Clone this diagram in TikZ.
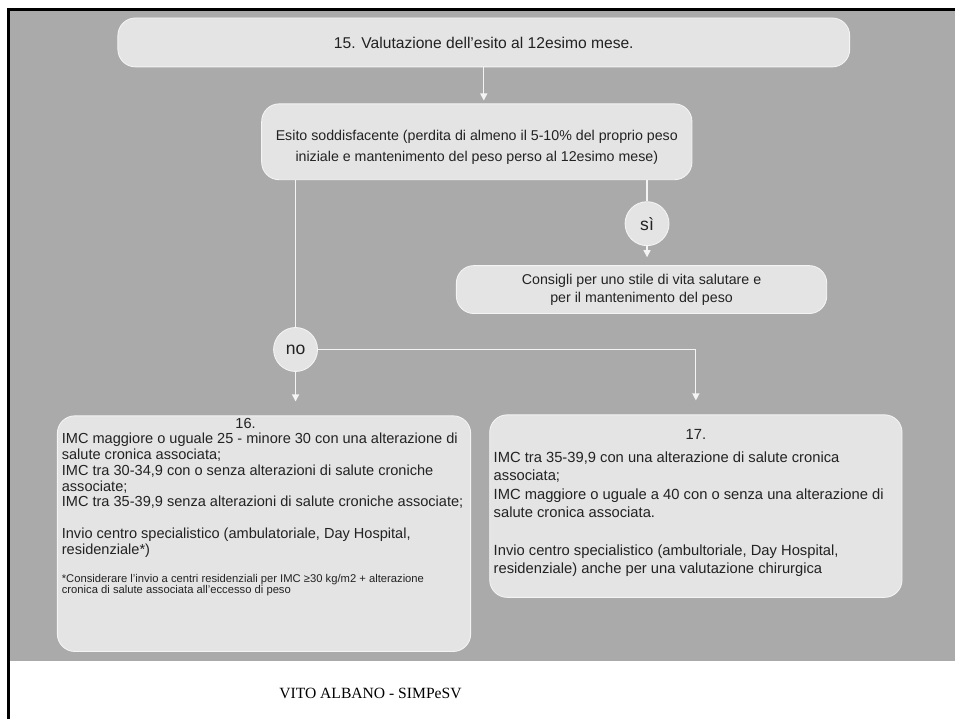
\documentclass[tikz,border=0pt]{standalone}
\usepackage{fontspec}
\setmainfont{Liberation Serif}
\setsansfont{Liberation Sans}
\usetikzlibrary{arrows.meta,positioning,calc}
\definecolor{slideGray}{HTML}{AAAAAA}
\definecolor{boxGray}{HTML}{E4E4E4}
\definecolor{wireWhite}{HTML}{F4F4F4}
\definecolor{inkGray}{HTML}{222222}

\tikzset{
  flowbox/.style={draw=wireWhite,line width=0.5pt,fill=boxGray,rounded corners=10pt,
                  text=inkGray,inner sep=0pt,align=center},
  answer/.style={circle,draw=wireWhite,line width=0.5pt,fill=boxGray,text=inkGray,
                 minimum size=0.88cm,inner sep=0pt,font=\sffamily\fontsize{10}{12}\selectfont},
  wire/.style={draw=wireWhite,line width=0.7pt},
  arrowwire/.style={wire,-{Triangle[length=4pt,width=4pt]}},
}
\newcommand{\plainspaces}{\spaceskip=0pt\xspaceskip=0pt\hyphenpenalty=10000\relax}

\begin{document}
\begin{tikzpicture}[x=0.02cm,y=-0.02cm]
  % slide background and frame
  \fill[white] (0,0) rectangle (956,720);
  \fill[slideGray] (10,11) rectangle (956,662);
  \draw[black,line width=1.6pt] (8.5,720) -- (8.5,9.5) -- (956,9.5);

  % boxes
  \node[flowbox,minimum width=14.66cm,minimum height=0.98cm,
        font=\sffamily\fontsize{8.9}{10.5}\selectfont] (valut) at (484.5,42.5)
    {15. Valutazione dell’esito al 12esimo mese.};
  \node[flowbox,minimum width=8.62cm,minimum height=1.52cm,
        font=\sffamily\fontsize{8.1}{11.9}\selectfont] (esito) at (477.5,142)
    {\rule{0pt}{12.5pt}Esito soddisfacente (perdita di almeno il 5-10\% del proprio peso\\
     iniziale e mantenimento del peso perso al 12esimo mese)};
  \node[answer] (si) at (648,224) {sì};
  \node[flowbox,minimum width=7.42cm,minimum height=0.96cm,
        font=\sffamily\fontsize{8.1}{10.2}\selectfont] (consigli) at (642.5,290)
    {Consigli per uno stile di vita salutare e\\per il mantenimento del peso};
  \node[answer] (no) at (296,350) {no};
  \node[flowbox,anchor=north west,text width=8.1cm,inner xsep=0.09cm,inner ysep=0.04cm,
        align=left,font=\sffamily\fontsize{8.3}{9}\selectfont] (imc16) at (57,416)
    {\plainspaces\makebox[\hsize]{16.\hspace{21pt}}\\
     IMC maggiore o uguale 25 - minore 30 con una alterazione di\\
     salute cronica associata;\\
     IMC tra 30-34,9 con o senza alterazioni di salute croniche\\
     associate;\\
     IMC tra 35-39,9 senza alterazioni di salute croniche associate;\\[9pt]
     Invio centro specialistico (ambulatoriale, Day Hospital,\\
     residenziale*)\\[8.5pt]
     {\fontsize{6.4}{6.3}\selectfont *Considerare l’invio a centri residenziali per IMC ≥30 kg/m2 + alterazione\\[-2.6pt]
     cronica di salute associata all’eccesso di peso\rule[-32pt]{0pt}{32pt}}};
  \node[flowbox,anchor=north west,text width=8.1cm,inner xsep=0.08cm,inner ysep=0.3cm,
        align=left,font=\sffamily\fontsize{8.4}{10.6}\selectfont] (imc17) at (490,415)
    {\plainspaces\makebox[\hsize]{17.}\\[2pt]
     IMC tra 35-39,9 con una alterazione di salute cronica\\
     associata;\\
     IMC maggiore o uguale a 40 con o senza una alterazione di\\
     salute cronica associata.\\[10.6pt]
     Invio centro specialistico (ambultoriale, Day Hospital,\\
     residenziale) anche per una valutazione chirurgica\rule[-5pt]{0pt}{5pt}};

  % footer
  \node[font=\rmfamily\fontsize{8.9}{10}\selectfont] (autore) at (371,694) {VITO ALBANO - SIMPeSV};

  % connectors
  \draw[arrowwire,shorten >=0.06cm] (valut.south) -- (valut.south |- esito.north);
  \draw[wire] (si.north |- esito.south) -- (si.north);
  \draw[arrowwire,shorten >=0.16cm] (si.south) -- (si.south |- consigli.north);
  \draw[wire] (no.north |- esito.south) -- (no.north);
  \draw[arrowwire,shorten >=0.28cm] (no.south) -- (no.south |- imc16.north);
  \draw[arrowwire,shorten >=0.28cm] (no.east) -| (imc17.north);
\end{tikzpicture}
\end{document}
